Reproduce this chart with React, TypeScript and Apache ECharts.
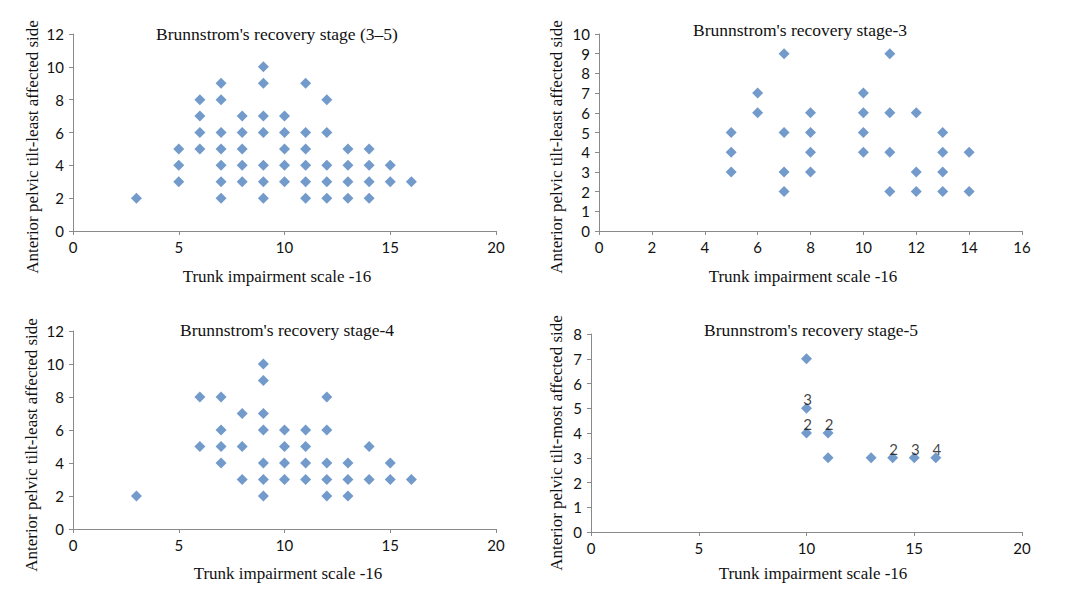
import React, { useEffect, useRef } from "react";
import * as echarts from "echarts";

// ---------- data ----------
const titles = [
  "Brunnstrom's recovery stage (3\u20135)",
  "Brunnstrom's recovery stage-3",
  "Brunnstrom's recovery stage-4",
  "Brunnstrom's recovery stage-5",
];
const xAxisTitle = "Trunk impairment scale -16";
const yAxisTitles = [
  "Anterior pelvic tilt-least affected side",
  "Anterior pelvic tilt-least affected side",
  "Anterior pelvic tilt-least affected side",
  "Anterior pelvic tilt-most affected side",
];

// stage 3–5 (x, y)
const stageAll: [number, number][] = [
  [3, 2],
  [5, 5], [5, 4], [5, 3],
  [6, 8], [6, 7], [6, 6], [6, 5],
  [7, 9], [7, 8], [7, 6], [7, 5], [7, 4], [7, 3], [7, 2],
  [8, 7], [8, 6], [8, 5], [8, 4], [8, 3],
  [9, 10], [9, 9], [9, 7], [9, 6], [9, 4], [9, 3], [9, 2],
  [10, 7], [10, 6], [10, 5], [10, 4], [10, 3],
  [11, 9], [11, 6], [11, 5], [11, 4], [11, 3], [11, 2],
  [12, 8], [12, 6], [12, 4], [12, 3], [12, 2],
  [13, 5], [13, 4], [13, 3], [13, 2],
  [14, 5], [14, 4], [14, 3], [14, 2],
  [15, 4], [15, 3],
  [16, 3],
];

const stage3: [number, number][] = [
  [5, 5], [5, 4], [5, 3],
  [6, 7], [6, 6],
  [7, 9], [7, 5], [7, 3], [7, 2],
  [8, 6], [8, 5], [8, 4], [8, 3],
  [10, 7], [10, 6], [10, 5], [10, 4],
  [11, 9], [11, 6], [11, 4], [11, 2],
  [12, 6], [12, 3], [12, 2],
  [13, 5], [13, 4], [13, 3], [13, 2],
  [14, 4], [14, 2],
];

const stage4: [number, number][] = [
  [3, 2],
  [6, 8], [6, 5],
  [7, 8], [7, 6], [7, 5], [7, 4],
  [8, 7], [8, 5], [8, 3],
  [9, 10], [9, 9], [9, 7], [9, 6], [9, 4], [9, 3], [9, 2],
  [10, 6], [10, 5], [10, 4], [10, 3],
  [11, 6], [11, 5], [11, 4], [11, 3],
  [12, 8], [12, 6], [12, 4], [12, 3], [12, 2],
  [13, 4], [13, 3], [13, 2],
  [14, 5], [14, 3],
  [15, 4], [15, 3],
  [16, 3],
];

const stage5: [number, number][] = [
  [10, 7], [10, 5], [10, 4], [11, 4], [11, 3], [13, 3], [14, 3], [15, 3], [16, 3],
];
const stage5Counts = ["", "3", "2", "2", "", "", "2", "3", "4"];

const xMax = [20, 16, 20, 20];
const xStep = [5, 2, 5, 5];
const yMax = [12, 10, 12, 8];
const yStep = [2, 1, 2, 1];

// ---------- layout ----------
const grids = [
  { left: 73, top: 34, width: 423, height: 197 },
  { left: 599, top: 34, width: 423, height: 197 },
  { left: 73, top: 331, width: 423, height: 198 },
  { left: 591, top: 334, width: 431, height: 198 },
];
const titleCenters = [
  [277, 34],
  [800, 30],
  [287, 330],
  [811, 330],
];
const xNamePos = [
  [277, 276],
  [803, 276],
  [288, 573],
  [813, 573],
];
const yNamePos = [
  [32, 147],
  [556, 147],
  [31, 445],
  [556, 443],
];

const BLUE = "#4F81BD";
const AXIS = "#8a8a8a";
const SERIF = "'Liberation Serif', 'Times New Roman', serif";
const SANS = "Lato, 'Open Sans', sans-serif";

export default function App() {
  const ref = useRef<HTMLDivElement>(null);

  useEffect(() => {
    document.body.style.margin = "0";
    if (!ref.current) return;
    const chart = echarts.init(ref.current, undefined, { renderer: "svg" });

    const datasets = [stageAll, stage3, stage4, stage5];

    const textEl = (t: string, x: number, y: number, size: number, rot = 0) => ({
      type: "text",
      x,
      y,
      rotation: rot,
      style: {
        text: t,
        fontFamily: SERIF,
        fontSize: size,
        fill: "#111",
        align: "center",
        verticalAlign: "middle",
      },
    });

    const option: any = {
      animation: false,
      backgroundColor: "#ffffff",
      grid: grids.map((g) => ({ ...g, containLabel: false })),
      xAxis: grids.map((_, i) => ({
        type: "value",
        gridIndex: i,
        min: 0,
        max: xMax[i],
        interval: xStep[i],
        axisLine: { show: true, lineStyle: { color: AXIS, width: 1 } },
        axisTick: { show: true, inside: false, length: 4, lineStyle: { color: AXIS } },
        axisLabel: { fontFamily: SANS, fontSize: 15, color: "#111", margin: 8 },
        splitLine: { show: false },
      })),
      yAxis: grids.map((_, i) => ({
        type: "value",
        gridIndex: i,
        min: 0,
        max: yMax[i],
        interval: yStep[i],
        axisLine: { show: true, lineStyle: { color: AXIS, width: 1 } },
        axisTick: { show: true, inside: false, length: 4, lineStyle: { color: AXIS } },
        axisLabel: { fontFamily: SANS, fontSize: 15, color: "#111", margin: 9 },
        splitLine: { show: false },
      })),
      graphic: [
        ...titles.map((t, i) => textEl(t, titleCenters[i][0], titleCenters[i][1], 17.5)),
        ...xNamePos.map((p) => textEl(xAxisTitle, p[0], p[1], 17)),
        ...yAxisTitles.map((t, i) => textEl(t, yNamePos[i][0], yNamePos[i][1], 17, Math.PI / 2)),
      ],
      series: datasets.map((d, i) => ({
        type: "scatter",
        xAxisIndex: i,
        yAxisIndex: i,
        symbol: "diamond",
        symbolSize: 11,
        itemStyle: { color: BLUE },
        data:
          i === 3
            ? d.map((p, k) => ({ value: p, count: stage5Counts[k] }))
            : d,
        label:
          i === 3
            ? {
                show: true,
                position: "top",
                distance: -4,
                offset: [1, 0],
                fontFamily: SANS,
                fontSize: 15,
                color: "#111",
                formatter: (params: any) => params.data.count || "",
              }
            : { show: false },
      })),
    };

    chart.setOption(option);
    return () => chart.dispose();
  }, []);

  return <div ref={ref} style={{ width: 1091, height: 603 }} />;
}
